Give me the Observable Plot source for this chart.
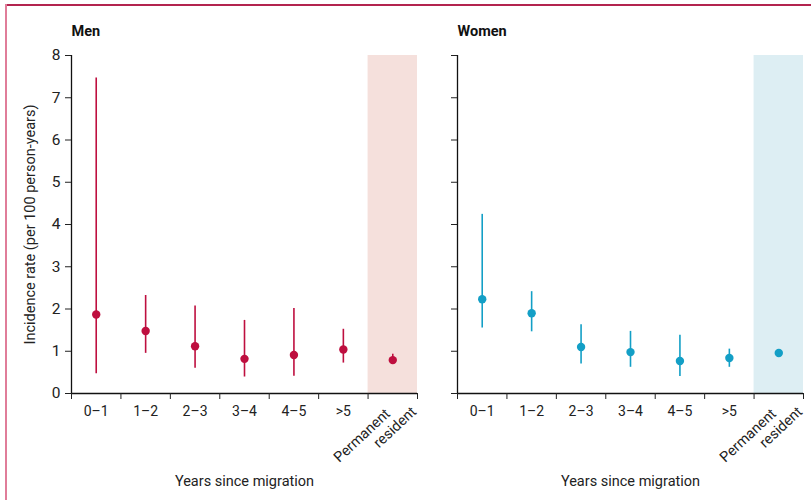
<!DOCTYPE html>
<html>
<head>
<meta charset="utf-8">
<script src="https://cdn.jsdelivr.net/npm/d3@7"></script>
<script src="https://cdn.jsdelivr.net/npm/@observablehq/plot@0.6"></script>
<style>
  html, body { margin: 0; padding: 0; background: #fff; }
  #wrap { position: relative; width: 811px; height: 500px; overflow: hidden; font-family: Roboto, sans-serif; }
  #frameTop { position: absolute; left: 5px; top: 4px; width: 806px; height: 2px; background: #b3244f; }
  #frameLeft { position: absolute; left: 5px; top: 4px; width: 2px; height: 496px; background: #e07d99; }
  .panel { position: absolute; top: 0; }
  .panel svg { overflow: visible; }
</style>
</head>
<body>
<div id="wrap">
  <div id="frameTop"></div>
  <div id="frameLeft"></div>
  <div id="men" class="panel" style="left:0px"></div>
  <div id="women" class="panel" style="left:400px"></div>
</div>
<script>
const categories = ["0–1", "1–2", "2–3", "3–4", "4–5", ">5", "Permanent resident"];
const menRate  = [1.87, 1.48, 1.12, 0.82, 0.91, 1.04, 0.79];
const menLower = [0.47, 0.95, 0.60, 0.39, 0.41, 0.72, 0.72];
const menUpper = [7.47, 2.32, 2.07, 1.73, 2.01, 1.52, 0.93];
const womenRate  = [2.23, 1.90, 1.10, 0.98, 0.77, 0.84, 0.96];
const womenLower = [1.55, 1.46, 0.70, 0.62, 0.40, 0.62, 0.86];
const womenUpper = [4.24, 2.41, 1.63, 1.47, 1.38, 1.05, 0.99];
const yTicks = [0, 1, 2, 3, 4, 5, 6, 7, 8];
const panelTitles = ["Men", "Women"];
const yLabel = "Incidence rate (per 100 person-years)";
const xLabel = "Years since migration";

function panel({rate, lower, upper, color, shade, title, showYLabels, width, marginLeft, marginRight}) {
  const rows = categories.map((c, i) => ({i, cat: c, rate: rate[i], lo: lower[i], hi: upper[i]}));
  const n = categories.length;
  const last = rows[n - 1];
  const yMax = yTicks[yTicks.length - 1];
  const words = last.cat.split(" ");
  const marks = [
    Plot.rect([last], {x1: d => d.i, x2: d => d.i + 1, y1: () => 0, y2: () => yMax, fill: shade}),
    Plot.ruleX([0], {stroke: "#111", strokeWidth: 1.3}),
    Plot.ruleY([0], {stroke: "#111", strokeWidth: 1.3}),
    Plot.axisY(yTicks, {tickSize: 6, tickPadding: 5, fontSize: 15.5, color: "#222", tickFormat: showYLabels ? (d => d) : (() => ""), label: null}),
    Plot.axisX(d3.range(n + 1), {tickSize: 6, tickFormat: () => "", label: null, color: "#222"}),
    Plot.axisX(rows.slice(0, n - 1).map(d => d.i + 0.5), {tickSize: 0, tickPadding: 13, fontSize: 14, color: "#222",
      tickFormat: v => categories[Math.round(v - 0.5)], label: null}),
    Plot.text([words[0]], {x: () => last.i + 0.4, y: () => 0, text: d => d, rotate: -43, textAnchor: "end", dy: 18, dx: 0, fontSize: 14.5, fill: "#222"}),
    Plot.text([words[1]], {x: () => last.i + 0.93, y: () => 0, text: d => d, rotate: -43, textAnchor: "end", dy: 16, dx: 0, fontSize: 14.5, fill: "#222"}),
    Plot.ruleX(rows, {x: d => d.i + 0.5, y1: "lo", y2: "hi", stroke: color, strokeWidth: 1.6}),
    Plot.dot(rows, {x: d => d.i + 0.5, y: "rate", r: 4.2, fill: color, stroke: "none"}),
    Plot.text([title], {frameAnchor: "top-left", text: d => d, dy: -24, lineAnchor: "middle", fontSize: 14.5, fontWeight: "bold", fill: "#111", textAnchor: "start"}),
    Plot.text([xLabel], {frameAnchor: "bottom", text: d => d, dy: 88, lineAnchor: "middle", fontSize: 14.5, fill: "#222"})
  ];
  if (showYLabels) {
    marks.push(Plot.text([yLabel], {frameAnchor: "left", text: d => d, rotate: -90, dx: -41, textAnchor: "middle", lineAnchor: "middle", fontSize: 14.5, fill: "#222"}));
  }
  return Plot.plot({
    width, height: 500,
    marginLeft, marginRight, marginTop: 55, marginBottom: 107,
    style: {fontFamily: "Roboto, sans-serif", fontSize: "14px", background: "transparent", overflow: "visible"},
    x: {type: "linear", domain: [0, n]},
    y: {domain: [0, yMax]},
    marks
  });
}

document.getElementById("men").append(panel({
  rate: menRate, lower: menLower, upper: menUpper,
  color: "#be0f3f", shade: "#f5e0dc", title: panelTitles[0], showYLabels: true,
  width: 420, marginLeft: 71, marginRight: 3
}));
document.getElementById("women").append(panel({
  rate: womenRate, lower: womenLower, upper: womenUpper,
  color: "#139fc6", shade: "#ddeef3", title: panelTitles[1], showYLabels: false,
  width: 411, marginLeft: 57, marginRight: 8
}));
</script>
</body>
</html>
